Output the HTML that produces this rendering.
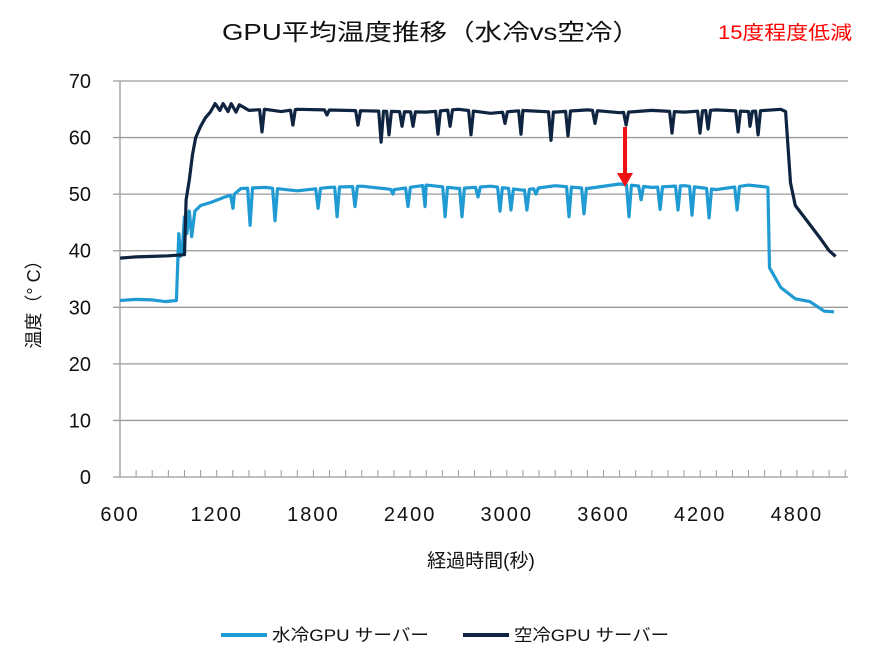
<!DOCTYPE html>
<html><head><meta charset="utf-8">
<style>
body{margin:0;background:#fff;}
svg text{font-family:"Liberation Sans","Noto Sans CJK JP",sans-serif;}
</style></head>
<body>
<svg id="chart" width="894" height="667" viewBox="0 0 894 667" xmlns="http://www.w3.org/2000/svg">
<text x="431" y="40" font-size="23" text-anchor="middle" fill="#111" textLength="418" lengthAdjust="spacingAndGlyphs">GPU平均温度推移（水冷vs空冷）</text>
<text x="785" y="39" font-size="19" text-anchor="middle" fill="#ff0000" textLength="134" lengthAdjust="spacingAndGlyphs">15度程度低減</text>
<g id="grid"></g>
<g id="axes"></g>
<g id="series"></g>
<line x1="625" y1="127" x2="625" y2="176" stroke="#ee1111" stroke-width="4"/>
<polygon points="617,173 633,173 625,187" fill="#ee1111"/>
<text transform="translate(40,300) rotate(-90)" font-size="18" text-anchor="middle" fill="#111">温度（° C）</text>
<text x="481" y="567" font-size="19" text-anchor="middle" fill="#111">経過時間(秒)</text>
<g>
<line x1="221" y1="635" x2="267" y2="635" stroke="#1f9ad3" stroke-width="4"/>
<text x="272" y="641" font-size="17" fill="#111" textLength="157" lengthAdjust="spacingAndGlyphs">水冷GPU サーバー</text>
<line x1="463" y1="635" x2="509" y2="635" stroke="#0f2440" stroke-width="4"/>
<text x="514" y="641" font-size="17" fill="#111" textLength="155" lengthAdjust="spacingAndGlyphs">空冷GPU サーバー</text>
</g>
</svg>
<script>
const yTicks=[0,10,20,30,40,50,60,70];
const xTickLabels=[600,1200,1800,2400,3000,3600,4200,4800];
const airBaseT=[600,700,800,900,1000,1010,1030,1050,1070,1100,1130,1160,1190,1220,1240,1270,1290,1320,1340,1400,1500,1600,1700,2000,2500,2700,2900,3100,3300,3500,3700,3900,4100,4300,4500,4700,4730,4760,4790,4870,4950,5000,5040];
const airBaseV=[38.7,38.9,39.0,39.1,39.3,49,52.5,57,60,62,63.5,64.5,66,64.8,66,64.6,66,64.5,65.8,64.8,65,64.6,65,64.8,64.5,65,64.3,64.8,64.5,64.9,64.4,64.8,64.5,64.9,64.6,65,64.6,52,48,45,42,40,39];
const airDipT=[1481,1673,1884,2077,2220,2269,2350,2418,2573,2648,2778,2989,3088,3274,3380,3547,3740,4025,4199,4249,4435,4509,4559];
const airDipV=[61.0,62.2,64.0,62.2,59.2,60.5,62,62,60.6,62,60.5,62.5,60.6,59.5,60.3,62.5,62.2,60.8,60.8,61.5,61,62,60.5];
const waterBaseT=[600,700,800,880,950,965,975,985,1000,1015,1030,1045,1065,1100,1160,1250,1310,1350,1500,1700,1900,2100,2300,2500,2700,2900,3100,3300,3500,3700,3900,4100,4300,4500,4600,4620,4630,4700,4790,4880,4970,5030];
const waterBaseV=[31.2,31.4,31.3,31.0,31.2,43,39,39.5,46,43,47,42.5,47,48,48.5,49.5,50,51,51.2,50.6,51.2,51.4,50.8,51.6,51.0,51.4,50.7,51.5,51.0,51.8,51.2,51.5,50.8,51.6,51.3,51.2,37,33.5,31.5,31,29.3,29.2];
const waterDipT=[1301,1407,1562,1829,1947,2058,2294,2387,2493,2617,2722,2821,2958,3026,3125,3181,3386,3479,3758,3833,3951,4062,4149,4255,4429];
const waterDipV=[47.5,44.5,45.3,47.5,46,47.8,50,47.8,47.8,46,46,49.5,47,47.2,47.2,50,46,46.5,46,49,47.3,47.2,46.3,45.8,47.2];

const NS="http://www.w3.org/2000/svg";
const X0=120,PX_PER_S=96.7/600,Y0=477,PX_PER_DEG=5.657,XR=848;
const xs=t=>X0+(t-600)*PX_PER_S;
const ys=v=>Y0-v*PX_PER_DEG;
function mk(tag,attrs,parent){const e=document.createElementNS(NS,tag);for(const k in attrs)e.setAttribute(k,attrs[k]);parent.appendChild(e);return e;}
const grid=document.getElementById('grid'),axes=document.getElementById('axes'),ser=document.getElementById('series');
yTicks.forEach(v=>{
  if(v>0){const l=mk('line',{x1:113,x2:XR,y1:ys(v),y2:ys(v),stroke:'#9a9a9a','stroke-width':1.3},grid);
  
  }
  const t=mk('text',{x:91,y:ys(v)+7,'font-size':20,'text-anchor':'end',fill:'#111'},axes);
  t.textContent=v;
  
  
});
const xa=mk('line',{x1:113,x2:XR,y1:Y0,y2:Y0,stroke:'#9a9a9a','stroke-width':1.3},axes);


const ya=mk('line',{x1:X0,x2:X0,y1:ys(70),y2:Y0,stroke:'#9a9a9a','stroke-width':1.3},axes);


for(let t=700;xs(t)<XR;t+=100){
  const m=mk('line',{x1:xs(t),x2:xs(t),y1:Y0-7,y2:Y0,stroke:'#9a9a9a','stroke-width':1},axes);
  
  
}
xTickLabels.forEach(v=>{
  const t=mk('text',{x:xs(v),y:521,'font-size':20,'text-anchor':'middle',fill:'#111','letter-spacing':'2'},axes);
  t.textContent=v;
  
  
});
function interp(T,V,t){for(let i=0;i<T.length-1;i++){if(t>=T[i]&&t<=T[i+1]){return V[i]+(V[i+1]-V[i])*(t-T[i])/(T[i+1]-T[i]);}}return V[V.length-1];}
function build(bT,bV,dT,dV){
  let pts=bT.map((t,i)=>[t,bV[i]]);
  dT.forEach((t,i)=>{pts.push([t-15,interp(bT,bV,t-15)]);pts.push([t,dV[i]]);pts.push([t+15,interp(bT,bV,t+15)]);});
  pts.sort((a,b)=>a[0]-b[0]);
  return pts.map(p=>xs(p[0]).toFixed(1)+','+ys(p[1]).toFixed(1)).join(' ');
}
const w=mk('polyline',{points:build(waterBaseT,waterBaseV,waterDipT,waterDipV),fill:'none',stroke:'#1f9ad3','stroke-width':3.2,'stroke-linejoin':'round'},ser);


const a=mk('polyline',{points:build(airBaseT,airBaseV,airDipT,airDipV),fill:'none',stroke:'#0f2440','stroke-width':3.2,'stroke-linejoin':'round'},ser);


</script>
</body></html>
